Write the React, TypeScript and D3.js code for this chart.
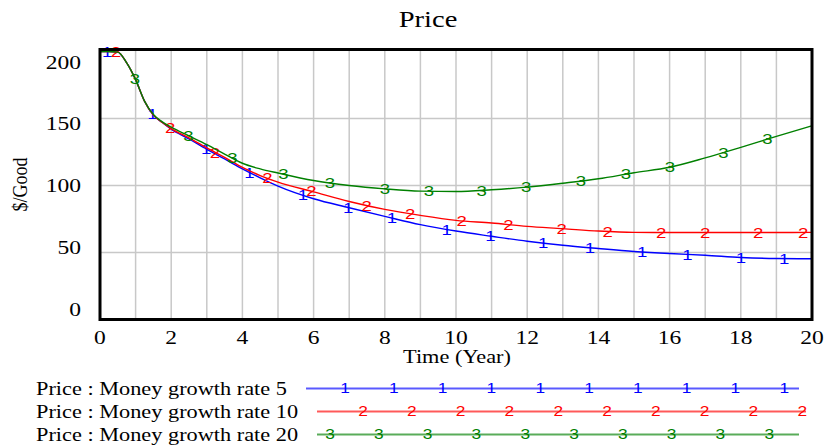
import React from "react";
import * as d3 from "d3";

// time points (year) and the three simulated runs
const times = [0, 0.25, 0.5, 0.75, 1, 1.25, 1.5, 1.75, 2, 2.5, 3, 3.5, 4, 4.5, 5, 6, 7, 8, 9, 10, 11, 12, 13, 14, 15, 16, 17, 18, 19, 20];
const rate5 = [200, 200, 199.5, 191.5, 179, 163, 152.5, 147, 142, 134.7, 127, 119.8, 112.4, 105.7, 99.5, 90.1, 83.4, 77, 70.8, 66, 62.1, 58.4, 55.4, 53, 50.8, 49.2, 48, 46.3, 45.5, 45.3];
const rate10 = [200, 200, 199.5, 191.5, 179, 163, 152.5, 147, 142.5, 135.5, 128, 121, 113.6, 107.4, 102.5, 95.3, 88.1, 82.2, 77.7, 74, 72, 69.5, 67.8, 66, 65, 64.9, 64.9, 64.9, 64.9, 65];
const rate20 = [200, 200, 199.5, 191.5, 179, 163, 153, 147.5, 143.5, 137, 130.5, 123.5, 116.6, 112.4, 109.3, 103.7, 100, 97.5, 95.8, 95.5, 96.8, 98.8, 101.7, 105, 109.5, 113.6, 120.6, 128.5, 136.7, 144.6];

// where the run number is stamped on each line (year)
const marks5 = [0.2, 1.47, 2.98, 4.2, 5.7, 6.97, 8.2, 9.74, 10.97, 12.45, 13.76, 15.23, 16.5, 18.0, 19.22];
const marks10 = [0.45, 1.97, 3.23, 4.7, 5.94, 7.49, 8.71, 10.16, 11.47, 12.97, 14.26, 15.76, 17.0, 18.49, 19.75];
const marks20 = [0.98, 2.48, 3.72, 5.15, 6.46, 8.0, 9.24, 10.72, 11.97, 13.51, 14.77, 16.01, 17.51, 18.75];

const xTicks = [0, 2, 4, 6, 8, 10, 12, 14, 16, 18, 20];
const yTicks = [0, 50, 100, 150, 200];
const yGrid = [50, 100, 150];
const seriesNames = ["Price : Money growth rate 5", "Price : Money growth rate 10", "Price : Money growth rate 20"];

const W = 827;
const H = 446;
const left = 100, right = 812, top = 49.5, bottom = 319.5;
const serif = "'Liberation Serif', 'Times New Roman', serif";
const sans = "'Liberation Sans', Arial, sans-serif";
const SX = 1.24; // the original's text is drawn a bit wide

const x = d3.scaleLinear().domain([0, 20]).range([left, right]);
const y = d3.scaleLinear().domain([0, 201.5]).range([bottom, top]);
// Vensim spreads the value labels evenly, a bit off the grid lines
const yLab = d3.scaleLinear().domain([0, 200]).range([309, 62]);

const valueAt = (vals: number[], t: number) => {
  const i = Math.min(Math.max(d3.bisectRight(times, t), 1), times.length - 1);
  const t0 = times[i - 1], t1 = times[i];
  return vals[i - 1] + ((t - t0) / (t1 - t0)) * (vals[i] - vals[i - 1]);
};

const series = [
  { name: seriesNames[0], vals: rate5, marks: marks5, color: "#0000ff", label: "1", lx0: 306, lx1: 799, m0: 345, n: 10 },
  { name: seriesNames[1], vals: rate10, marks: marks10, color: "#ff0000", label: "2", lx0: 317, lx1: 806, m0: 363, n: 10 },
  { name: seriesNames[2], vals: rate20, marks: marks20, color: "#008000", label: "3", lx0: 317, lx1: 799, m0: 330, n: 10 },
];

const T = ({ x, y, size, anchor = "start", font = serif, fill = "#000", children }: any) => (
  <text
    transform={`translate(${x},${y}) scale(${SX},1)`}
    dy="0.35em"
    textAnchor={anchor}
    fontFamily={font}
    fontSize={size}
    fill={fill}
  >
    {children}
  </text>
);

export default function App() {
  const line = d3
    .line<number>()
    .x((_, i) => x(times[i]))
    .y((d) => y(d))
    .curve(d3.curveMonotoneX);

  return (
    <svg width={W} height={H} style={{ position: "absolute", left: 0, top: 0, background: "#fff" }}>
      <rect width={W} height={H} fill="#fff" />
      <T x={428} y={19} size={23} anchor="middle">
        Price
      </T>

      {/* grid */}
      {d3.range(1, 20).map((t) => (
        <line key={"vx" + t} x1={x(t)} x2={x(t)} y1={top} y2={bottom} stroke="#c8c8c8" strokeWidth={1.5} />
      ))}
      {yGrid.map((v) => (
        <line key={"hy" + v} x1={left} x2={right} y1={y(v)} y2={y(v)} stroke="#c8c8c8" strokeWidth={1.5} />
      ))}

      {/* runs */}
      {series.map((s) => (
        <g key={s.name}>
          <path d={line(s.vals) || ""} fill="none" stroke={s.color} strokeWidth={1.4} />
          {s.marks.map((t, i) => (
            <T key={i} x={x(t)} y={y(valueAt(s.vals, t))} size={15} anchor="middle" font={sans} fill={s.color}>
              {s.label}
            </T>
          ))}
        </g>
      ))}

      <rect x={left} y={top} width={right - left} height={bottom - top} fill="none" stroke="#000" strokeWidth={3} />

      {/* axes labels */}
      {yTicks.map((v) => (
        <T key={"yl" + v} x={81} y={yLab(v)} size={19} anchor="end">
          {v}
        </T>
      ))}
      {xTicks.map((t) => (
        <T key={"xl" + t} x={x(t)} y={337} size={19} anchor="middle">
          {t}
        </T>
      ))}
      <T x={457} y={357} size={18} anchor="middle">
        Time (Year)
      </T>
      <text
        transform="translate(20,184.5) rotate(-90) scale(1,1.15)"
        dy="0.35em"
        textAnchor="middle"
        fontFamily={serif}
        fontSize={18}
      >
        $/Good
      </text>

      {/* legend */}
      {series.map((s, k) => {
        const ly = 388.5 + k * 23;
        return (
          <g key={"lg" + k}>
            <T x={36} y={ly} size={18}>
              {s.name}
            </T>
            <line x1={s.lx0} x2={s.lx1} y1={ly} y2={ly} stroke={s.color} strokeWidth={2} strokeOpacity={0.65} />
            {d3.range(s.n).map((j) => (
              <T key={j} x={s.m0 + j * 48.8} y={ly} size={14} anchor="middle" font={sans} fill={s.color}>
                {s.label}
              </T>
            ))}
          </g>
        );
      })}
    </svg>
  );
}
